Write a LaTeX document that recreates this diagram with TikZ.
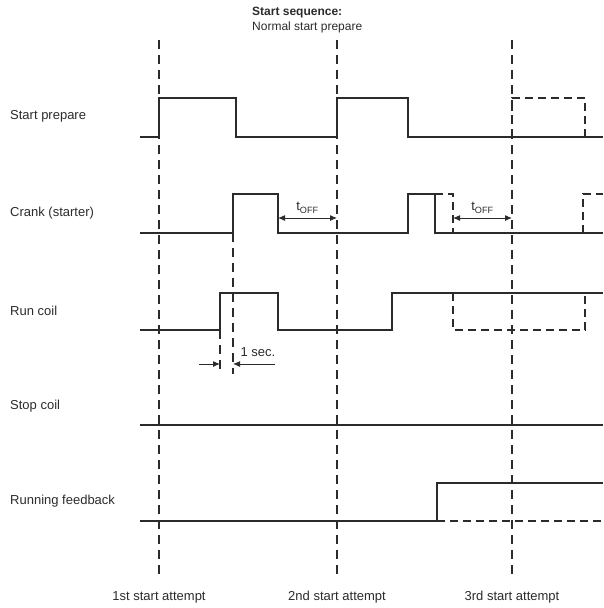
\documentclass[tikz,border=0pt]{standalone}
\usepackage{fontspec}
\setmainfont{Liberation Sans}
\usetikzlibrary{arrows.meta}
\definecolor{tdInk}{HTML}{2B2B2B}
\tikzset{
  every picture/.style={font=\fontsize{13}{15}\selectfont, text=tdInk},
  td label/.style={anchor=west, inner sep=0pt},
  td signal/.style={draw=tdInk, line width=1.1pt},
  td alt/.style={draw=tdInk, line width=1.1pt, dash pattern=on 8pt off 5pt},
  td guide/.style={draw=tdInk, line width=1.1pt, dash pattern=on 9pt off 6pt},
  td arrow/.style={-{Latex[length=7pt,width=6pt]}, draw=tdInk, line width=1pt},
  td span/.style={{Latex[length=7pt,width=6pt]}-{Latex[length=7pt,width=6pt]},
    draw=tdInk, line width=1pt}
}

\begin{document}
\begin{tikzpicture}[x=1pt,y=-1pt]
  \useasboundingbox (0,0) rectangle (603,608);
  % heading
  \node[td label, anchor=north west, align=left, font=\fontsize{12}{15}\selectfont]
    (title) at (252,7) {\textbf{Start sequence:}\\Normal start prepare};
  % signal names
  \node[td label] (lprep) at (10,116) {Start prepare};
  \node[td label] (lcrank) at (10,213) {Crank (starter)};
  \node[td label] (lrun) at (10,311) {Run coil};
  \node[td label] (lstop) at (10,406) {Stop coil};
  \node[td label] (lfb) at (10,501) {Running feedback};
  % start attempts
  \foreach \x/\n/\t in {159/att1/1st, 337/att2/2nd, 512/att3/3rd} {
    \draw[td guide] (\x,40) -- (\x,578);
    \node (\n) at (\x,597) {\t\ start attempt};
  }
  % start prepare
  \draw[td signal] (140,137) -- (159,137) -- (159,98) -- (236,98) -- (236,137)
    -- (337,137) -- (337,98) -- (408,98) -- (408,137) -- (603,137);
  \draw[td alt] (512,137) -- (512,98) -- (585,98) -- (585,137);
  % crank
  \draw[td signal] (140,233) -- (233,233) -- (233,194) -- (278,194) -- (278,233)
    -- (408,233) -- (408,194) -- (435,194) -- (435,233) -- (603,233);
  \draw[td alt] (435,194) -- (453,194) -- (453,233);
  \draw[td alt] (583,233) -- (583,194) -- (603,194);
  \coordinate (off1a) at (278,218);
  \coordinate (off1b) at (337,218);
  \coordinate (off2a) at (453,218);
  \coordinate (off2b) at (512,218);
  \draw[td span] (off1a) -- (off1b) node[midway, above=1pt] (toff1) {t\textsubscript{OFF}};
  \draw[td span] (off2a) -- (off2b) node[midway, above=1pt] (toff2) {t\textsubscript{OFF}};
  % run coil
  \draw[td signal] (140,330) -- (220,330) -- (220,293) -- (278,293) -- (278,330)
    -- (392,330) -- (392,293) -- (603,293);
  \draw[td alt] (453,293) -- (453,330) -- (585,330) -- (585,293);
  \draw[td guide] (220,330) -- (220,374);
  \draw[td guide] (233,233) -- (233,374);
  \coordinate (secL) at (199,364);
  \coordinate (secA) at (220,364);
  \coordinate (secB) at (233,364);
  \coordinate (secR) at (275,364);
  \draw[td arrow] (secL) -- (secA);
  \draw[td arrow] (secR) -- (secB);
  \node (onesec) at (258,352) {1 sec.};
  % stop coil
  \draw[td signal] (140,425) -- (603,425);
  % running feedback
  \draw[td signal] (140,521) -- (437,521) -- (437,483) -- (603,483);
  \draw[td alt] (437,521) -- (603,521);
\end{tikzpicture}
\end{document}
